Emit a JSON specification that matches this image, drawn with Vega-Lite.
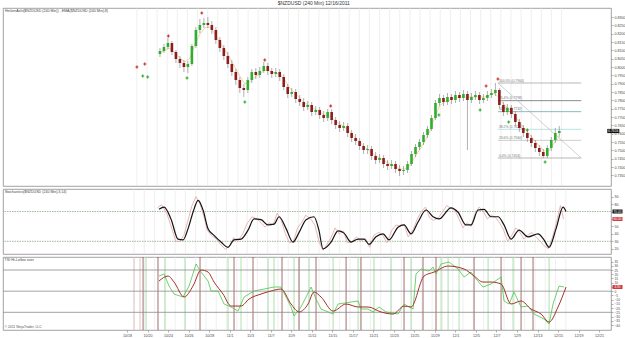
{
"$schema": "https://vega.github.io/schema/vega-lite/v6.json",
"padding": {"left": 2, "top": 1, "right": 0, "bottom": 0},
"background": "white",
"spacing": 1,
"title": {"text": "$NZDUSD (240 Min)  12/16/2011", "fontSize": 5, "fontWeight": "normal", "color": "#333", "offset": 1, "anchor": "middle", "font": "Liberation Sans"},
"config": {
  "font": "Liberation Sans",
  "view": {"stroke": "#8a8a8a", "strokeWidth": 0.8},
  "axis": {"labelFontSize": 3.6, "labelColor": "#444", "tickSize": 2, "tickWidth": 0.5, "tickColor": "#666", "domain": false, "grid": false, "labelPadding": 1, "title": null, "labelOverlap": false, "labelBound": false, "tickCount": 200}
},
"datasets": {
  "grid": [{"t":0.69},{"t":1.70},{"t":2.72},{"t":3.73},{"t":4.74},{"t":5.75},{"t":6.77},{"t":7.78},{"t":8.79},{"t":9.81},{"t":10.82},{"t":11.83},{"t":12.84},{"t":13.86},{"t":14.87},{"t":15.88},{"t":16.89},{"t":17.91},{"t":18.92},{"t":19.93},{"t":20.95},{"t":21.96},{"t":22.97},{"t":23.98},{"t":25.00},{"t":26.01},{"t":27.02},{"t":28.04},{"t":29.05},{"t":30.06},{"t":31.07},{"t":32.09},{"t":33.10},{"t":34.11},{"t":35.13},{"t":36.14},{"t":37.15},{"t":38.16},{"t":39.18},{"t":40.19},{"t":41.20},{"t":42.21},{"t":43.23}],
  "candles": [
{"t":3.0,"o":0.8078,"h":0.8114,"l":0.8060,"c":0.8096},
{"t":3.4,"o":0.8096,"h":0.8138,"l":0.8084,"c":0.8120},
{"t":3.8,"o":0.8120,"h":0.8174,"l":0.8108,"c":0.8144},
{"t":4.2,"o":0.8144,"h":0.8156,"l":0.8072,"c":0.8090},
{"t":4.6,"o":0.8090,"h":0.8102,"l":0.8024,"c":0.8048},
{"t":5.0,"o":0.8048,"h":0.8066,"l":0.7994,"c":0.8024},
{"t":5.4,"o":0.8024,"h":0.8042,"l":0.7970,"c":0.8000},
{"t":5.8,"o":0.8000,"h":0.8036,"l":0.7964,"c":0.8018},
{"t":6.2,"o":0.8018,"h":0.8138,"l":0.8006,"c":0.8126},
{"t":6.6,"o":0.8126,"h":0.8240,"l":0.8114,"c":0.8222},
{"t":7.0,"o":0.8222,"h":0.8288,"l":0.8204,"c":0.8252},
{"t":7.4,"o":0.8252,"h":0.8294,"l":0.8234,"c":0.8264},
{"t":7.8,"o":0.8264,"h":0.8300,"l":0.8234,"c":0.8252},
{"t":8.2,"o":0.8252,"h":0.8276,"l":0.8198,"c":0.8222},
{"t":8.6,"o":0.8222,"h":0.8240,"l":0.8138,"c":0.8162},
{"t":9.0,"o":0.8162,"h":0.8180,"l":0.8090,"c":0.8114},
{"t":9.4,"o":0.8114,"h":0.8132,"l":0.8042,"c":0.8066},
{"t":9.8,"o":0.8066,"h":0.8090,"l":0.7994,"c":0.8018},
{"t":10.2,"o":0.8018,"h":0.8042,"l":0.7946,"c":0.7970},
{"t":10.6,"o":0.7970,"h":0.7988,"l":0.7892,"c":0.7922},
{"t":11.0,"o":0.7922,"h":0.7940,"l":0.7844,"c":0.7874},
{"t":11.4,"o":0.7874,"h":0.7898,"l":0.7820,"c":0.7862},
{"t":11.8,"o":0.7862,"h":0.7940,"l":0.7844,"c":0.7922},
{"t":12.2,"o":0.7922,"h":0.7988,"l":0.7904,"c":0.7970},
{"t":12.6,"o":0.7970,"h":0.7994,"l":0.7928,"c":0.7952},
{"t":13.0,"o":0.7952,"h":0.8000,"l":0.7934,"c":0.7976},
{"t":13.4,"o":0.7976,"h":0.8030,"l":0.7964,"c":0.8006},
{"t":13.8,"o":0.8006,"h":0.8024,"l":0.7952,"c":0.7976},
{"t":14.2,"o":0.7976,"h":0.7994,"l":0.7934,"c":0.7958},
{"t":14.6,"o":0.7958,"h":0.7994,"l":0.7940,"c":0.7970},
{"t":15.0,"o":0.7970,"h":0.7988,"l":0.7916,"c":0.7940},
{"t":15.4,"o":0.7940,"h":0.7958,"l":0.7862,"c":0.7880},
{"t":15.8,"o":0.7880,"h":0.7898,"l":0.7814,"c":0.7838},
{"t":16.2,"o":0.7838,"h":0.7874,"l":0.7820,"c":0.7850},
{"t":16.6,"o":0.7850,"h":0.7868,"l":0.7784,"c":0.7808},
{"t":17.0,"o":0.7808,"h":0.7832,"l":0.7766,"c":0.7790},
{"t":17.4,"o":0.7790,"h":0.7814,"l":0.7736,"c":0.7760},
{"t":17.8,"o":0.7760,"h":0.7796,"l":0.7742,"c":0.7772},
{"t":18.2,"o":0.7772,"h":0.7790,"l":0.7706,"c":0.7730},
{"t":18.6,"o":0.7730,"h":0.7766,"l":0.7712,"c":0.7742},
{"t":19.0,"o":0.7742,"h":0.7760,"l":0.7688,"c":0.7712},
{"t":19.4,"o":0.7712,"h":0.7736,"l":0.7670,"c":0.7694},
{"t":19.8,"o":0.7694,"h":0.7748,"l":0.7676,"c":0.7730},
{"t":20.2,"o":0.7730,"h":0.7748,"l":0.7658,"c":0.7682},
{"t":20.6,"o":0.7682,"h":0.7700,"l":0.7628,"c":0.7652},
{"t":21.0,"o":0.7652,"h":0.7676,"l":0.7610,"c":0.7634},
{"t":21.4,"o":0.7634,"h":0.7670,"l":0.7616,"c":0.7646},
{"t":21.8,"o":0.7646,"h":0.7664,"l":0.7580,"c":0.7604},
{"t":22.2,"o":0.7604,"h":0.7622,"l":0.7550,"c":0.7574},
{"t":22.6,"o":0.7574,"h":0.7598,"l":0.7532,"c":0.7556},
{"t":23.0,"o":0.7556,"h":0.7574,"l":0.7502,"c":0.7526},
{"t":23.4,"o":0.7526,"h":0.7544,"l":0.7478,"c":0.7502},
{"t":23.8,"o":0.7502,"h":0.7532,"l":0.7478,"c":0.7508},
{"t":24.2,"o":0.7508,"h":0.7526,"l":0.7442,"c":0.7466},
{"t":24.6,"o":0.7466,"h":0.7490,"l":0.7418,"c":0.7442},
{"t":25.0,"o":0.7442,"h":0.7478,"l":0.7424,"c":0.7454},
{"t":25.4,"o":0.7454,"h":0.7472,"l":0.7394,"c":0.7418},
{"t":25.8,"o":0.7418,"h":0.7442,"l":0.7382,"c":0.7406},
{"t":26.2,"o":0.7406,"h":0.7442,"l":0.7388,"c":0.7418},
{"t":26.6,"o":0.7418,"h":0.7436,"l":0.7364,"c":0.7388},
{"t":27.0,"o":0.7388,"h":0.7412,"l":0.7346,"c":0.7376},
{"t":27.4,"o":0.7376,"h":0.7406,"l":0.7352,"c":0.7382},
{"t":27.8,"o":0.7382,"h":0.7436,"l":0.7364,"c":0.7418},
{"t":28.2,"o":0.7418,"h":0.7496,"l":0.7406,"c":0.7478},
{"t":28.6,"o":0.7478,"h":0.7538,"l":0.7460,"c":0.7520},
{"t":29.0,"o":0.7520,"h":0.7568,"l":0.7502,"c":0.7550},
{"t":29.4,"o":0.7550,"h":0.7610,"l":0.7532,"c":0.7592},
{"t":29.8,"o":0.7592,"h":0.7646,"l":0.7574,"c":0.7628},
{"t":30.2,"o":0.7628,"h":0.7712,"l":0.7616,"c":0.7694},
{"t":30.6,"o":0.7694,"h":0.7802,"l":0.7682,"c":0.7784},
{"t":31.0,"o":0.7784,"h":0.7838,"l":0.7766,"c":0.7814},
{"t":31.4,"o":0.7814,"h":0.7832,"l":0.7766,"c":0.7790},
{"t":31.8,"o":0.7790,"h":0.7844,"l":0.7772,"c":0.7820},
{"t":32.2,"o":0.7820,"h":0.7838,"l":0.7778,"c":0.7802},
{"t":32.6,"o":0.7802,"h":0.7856,"l":0.7784,"c":0.7832},
{"t":33.0,"o":0.7832,"h":0.7850,"l":0.7790,"c":0.7814},
{"t":33.4,"o":0.7814,"h":0.7862,"l":0.7796,"c":0.7838},
{"t":33.8,"o":0.7838,"h":0.7856,"l":0.7502,"c":0.7802},
{"t":34.2,"o":0.7802,"h":0.7844,"l":0.7784,"c":0.7820},
{"t":34.6,"o":0.7820,"h":0.7856,"l":0.7802,"c":0.7832},
{"t":35.0,"o":0.7832,"h":0.7850,"l":0.7778,"c":0.7802},
{"t":35.4,"o":0.7802,"h":0.7838,"l":0.7784,"c":0.7814},
{"t":35.8,"o":0.7814,"h":0.7856,"l":0.7796,"c":0.7832},
{"t":36.2,"o":0.7832,"h":0.7868,"l":0.7814,"c":0.7844},
{"t":36.6,"o":0.7844,"h":0.7904,"l":0.7826,"c":0.7862},
{"t":37.0,"o":0.7862,"h":0.7874,"l":0.7754,"c":0.7772},
{"t":37.4,"o":0.7772,"h":0.7790,"l":0.7706,"c":0.7730},
{"t":37.8,"o":0.7730,"h":0.7778,"l":0.7712,"c":0.7754},
{"t":38.2,"o":0.7754,"h":0.7772,"l":0.7694,"c":0.7718},
{"t":38.6,"o":0.7718,"h":0.7736,"l":0.7646,"c":0.7670},
{"t":39.0,"o":0.7670,"h":0.7688,"l":0.7610,"c":0.7634},
{"t":39.4,"o":0.7634,"h":0.7652,"l":0.7580,"c":0.7604},
{"t":39.8,"o":0.7604,"h":0.7622,"l":0.7550,"c":0.7574},
{"t":40.2,"o":0.7574,"h":0.7592,"l":0.7520,"c":0.7544},
{"t":40.6,"o":0.7544,"h":0.7562,"l":0.7490,"c":0.7514},
{"t":41.0,"o":0.7514,"h":0.7532,"l":0.7466,"c":0.7490},
{"t":41.4,"o":0.7490,"h":0.7508,"l":0.7454,"c":0.7466},
{"t":41.8,"o":0.7466,"h":0.7532,"l":0.7454,"c":0.7514},
{"t":42.2,"o":0.7514,"h":0.7580,"l":0.7496,"c":0.7562},
{"t":42.6,"o":0.7562,"h":0.7634,"l":0.7544,"c":0.7604},
{"t":43.0,"o":0.7604,"h":0.7646,"l":0.7580,"c":0.7616}
  ],
  "ema": [
{"t":3,"p":0.8084},{"t":3.5,"p":0.8102},{"t":4,"p":0.8114},{"t":4.5,"p":0.8084},{"t":5,"p":0.8054},{"t":5.5,"p":0.8030},{"t":6,"p":0.8054},{"t":6.5,"p":0.8132},{"t":7,"p":0.8198},{"t":7.5,"p":0.8234},{"t":8,"p":0.8240},{"t":8.5,"p":0.8198},{"t":9,"p":0.8150},{"t":9.5,"p":0.8102},{"t":10,"p":0.8054},{"t":10.5,"p":0.8000},{"t":11,"p":0.7946},{"t":11.5,"p":0.7898},{"t":12,"p":0.7910},{"t":12.5,"p":0.7940},{"t":13,"p":0.7958},{"t":13.5,"p":0.7982},{"t":14,"p":0.7976},{"t":14.5,"p":0.7964},{"t":15,"p":0.7958},{"t":15.5,"p":0.7922},{"t":16,"p":0.7874},{"t":16.5,"p":0.7844},{"t":17,"p":0.7814},{"t":17.5,"p":0.7784},{"t":18,"p":0.7766},{"t":18.5,"p":0.7748},{"t":19,"p":0.7730},{"t":19.5,"p":0.7712},{"t":20,"p":0.7706},{"t":20.5,"p":0.7682},{"t":21,"p":0.7658},{"t":21.5,"p":0.7640},{"t":22,"p":0.7610},{"t":22.5,"p":0.7580},{"t":23,"p":0.7550},{"t":23.5,"p":0.7520},{"t":24,"p":0.7496},{"t":24.5,"p":0.7472},{"t":25,"p":0.7454},{"t":25.5,"p":0.7436},{"t":26,"p":0.7418},{"t":26.5,"p":0.7406},{"t":27,"p":0.7388},{"t":27.5,"p":0.7388},{"t":28,"p":0.7406},{"t":28.5,"p":0.7454},{"t":29,"p":0.7502},{"t":29.5,"p":0.7550},{"t":30,"p":0.7610},{"t":30.5,"p":0.7694},{"t":31,"p":0.7766},{"t":31.5,"p":0.7790},{"t":32,"p":0.7802},{"t":32.5,"p":0.7814},{"t":33,"p":0.7820},{"t":33.5,"p":0.7820},{"t":34,"p":0.7820},{"t":34.5,"p":0.7820},{"t":35,"p":0.7820},{"t":35.5,"p":0.7820},{"t":36,"p":0.7832},{"t":36.5,"p":0.7844},{"t":37,"p":0.7814},{"t":37.5,"p":0.7772},{"t":38,"p":0.7748},{"t":38.5,"p":0.7712},{"t":39,"p":0.7670},{"t":39.5,"p":0.7634},{"t":40,"p":0.7598},{"t":40.5,"p":0.7562},{"t":41,"p":0.7526},{"t":41.5,"p":0.7496},{"t":42,"p":0.7502},{"t":42.5,"p":0.7544},{"t":43,"p":0.7580}
  ],
  "markers": [
{"t":0.69,"p":0.8000,"k":"s"},{"t":1.48,"p":0.8018,"k":"s"},{"t":1.28,"p":0.7946,"k":"b"},{"t":1.77,"p":0.7940,"k":"b"},{"t":3.84,"p":0.8186,"k":"s"},{"t":5.71,"p":0.7934,"k":"b"},{"t":7.19,"p":0.8324,"k":"s"},{"t":11.5,"p":0.7790,"k":"b"},{"t":13.5,"p":0.8042,"k":"s"},{"t":20.1,"p":0.7766,"k":"s"},{"t":30.94,"p":0.7712,"k":"b"},{"t":35.07,"p":0.7742,"k":"b"},{"t":35.67,"p":0.7886,"k":"s"},{"t":36.85,"p":0.7928,"k":"s"},{"t":37.93,"p":0.7670,"k":"b"},{"t":39.8,"p":0.7622,"k":"b"},{"t":41.58,"p":0.7430,"k":"b"}
  ],
  "fib": [
{"t":36.85,"t2":45.2,"p":0.7904,"lv":"100.0% (0.7904)","n":100},
{"t":36.85,"t2":45.2,"p":0.7798,"lv":"76.4% (0.7798)","n":76.4},
{"t":36.85,"t2":45.2,"p":0.7732,"lv":"61.8% (0.7732)","n":61.8},
{"t":36.85,"t2":45.2,"p":0.7626,"lv":"38.2% (0.7626)","n":38.2},
{"t":36.85,"t2":45.2,"p":0.7560,"lv":"23.6% (0.7560)","n":23.6},
{"t":36.85,"t2":45.2,"p":0.7454,"lv":"0.0% (0.7454)","n":0}
  ],
  "diag": [{"t":36.85,"t2":45.2,"p":0.7904,"p2":0.7454}],
  "lastPrice": [{"t":43.0,"p":0.7616}],
  "lastStoch": [{"t":43.0,"v":70,"k":"d"},{"t":43.0,"v":60,"k":"k"}],
  "lastTsi": [{"t":43.0,"v":4.9}],
  "stochD": [
{"t":3.15,"v":73},{"t":3.65,"v":76},{"t":4.33,"v":60},{"t":5.02,"v":33},{"t":5.52,"v":32},{"t":6.01,"v":47},{"t":6.5,"v":69},{"t":7.0,"v":85},{"t":7.49,"v":72},{"t":7.98,"v":47},{"t":8.57,"v":38},{"t":9.26,"v":29},{"t":9.95,"v":22},{"t":10.54,"v":32},{"t":11.23,"v":33},{"t":11.92,"v":45},{"t":12.51,"v":60},{"t":13.2,"v":59},{"t":13.89,"v":52},{"t":14.48,"v":53},{"t":14.98,"v":63},{"t":15.67,"v":47},{"t":16.35,"v":29},{"t":16.95,"v":42},{"t":17.64,"v":59},{"t":18.42,"v":63},{"t":18.9,"v":45},{"t":19.31,"v":20},{"t":20.1,"v":29},{"t":20.79,"v":44},{"t":21.38,"v":41},{"t":22.07,"v":29},{"t":22.76,"v":33},{"t":23.35,"v":33},{"t":23.84,"v":26},{"t":24.53,"v":36},{"t":25.22,"v":40},{"t":25.81,"v":32},{"t":26.7,"v":49},{"t":27.29,"v":52},{"t":27.98,"v":40},{"t":28.67,"v":56},{"t":29.46,"v":72},{"t":30.15,"v":63},{"t":30.74,"v":60},{"t":31.92,"v":75},{"t":32.61,"v":69},{"t":33.4,"v":52},{"t":33.89,"v":52},{"t":34.58,"v":72},{"t":35.17,"v":73},{"t":35.86,"v":63},{"t":36.55,"v":63},{"t":37.14,"v":52},{"t":37.83,"v":33},{"t":38.62,"v":45},{"t":39.51,"v":36},{"t":40.49,"v":40},{"t":41.08,"v":32},{"t":41.58,"v":22},{"t":42.27,"v":47},{"t":42.96,"v":76},{"t":43.25,"v":70}
  ],
  "stochK": [
{"t":3.0,"v":75},{"t":3.4,"v":79},{"t":3.9,"v":68},{"t":4.3,"v":52},{"t":4.8,"v":30},{"t":5.2,"v":30},{"t":5.6,"v":38},{"t":6.0,"v":58},{"t":6.4,"v":78},{"t":6.8,"v":90},{"t":7.2,"v":80},{"t":7.6,"v":62},{"t":7.9,"v":45},{"t":8.3,"v":38},{"t":8.8,"v":33},{"t":9.2,"v":26},{"t":9.7,"v":19},{"t":10.1,"v":24},{"t":10.5,"v":35},{"t":10.9,"v":30},{"t":11.4,"v":40},{"t":11.8,"v":53},{"t":12.3,"v":63},{"t":12.8,"v":60},{"t":13.2,"v":55},{"t":13.6,"v":49},{"t":14.0,"v":55},{"t":14.4,"v":52},{"t":14.8,"v":68},{"t":15.2,"v":58},{"t":15.6,"v":40},{"t":16.0,"v":28},{"t":16.4,"v":30},{"t":16.8,"v":48},{"t":17.2,"v":55},{"t":17.6,"v":65},{"t":18.1,"v":60},{"t":18.5,"v":52},{"t":18.9,"v":30},{"t":19.3,"v":18},{"t":19.7,"v":26},{"t":20.1,"v":35},{"t":20.5,"v":48},{"t":20.9,"v":40},{"t":21.3,"v":44},{"t":21.7,"v":28},{"t":22.2,"v":30},{"t":22.6,"v":36},{"t":23.0,"v":30},{"t":23.5,"v":34},{"t":23.9,"v":22},{"t":24.3,"v":38},{"t":24.8,"v":42},{"t":25.2,"v":38},{"t":25.6,"v":28},{"t":26.1,"v":45},{"t":26.5,"v":52},{"t":26.9,"v":50},{"t":27.3,"v":53},{"t":27.7,"v":36},{"t":28.2,"v":46},{"t":28.6,"v":60},{"t":29.0,"v":70},{"t":29.4,"v":76},{"t":29.8,"v":62},{"t":30.2,"v":58},{"t":30.7,"v":62},{"t":31.1,"v":70},{"t":31.5,"v":78},{"t":31.9,"v":74},{"t":32.3,"v":72},{"t":32.7,"v":60},{"t":33.1,"v":48},{"t":33.5,"v":55},{"t":33.9,"v":50},{"t":34.3,"v":68},{"t":34.7,"v":76},{"t":35.1,"v":70},{"t":35.5,"v":60},{"t":35.9,"v":65},{"t":36.3,"v":62},{"t":36.7,"v":55},{"t":37.1,"v":45},{"t":37.5,"v":30},{"t":37.9,"v":38},{"t":38.3,"v":48},{"t":38.7,"v":42},{"t":39.1,"v":33},{"t":39.5,"v":38},{"t":39.9,"v":42},{"t":40.3,"v":36},{"t":40.7,"v":30},{"t":41.1,"v":24},{"t":41.5,"v":20},{"t":41.9,"v":35},{"t":42.3,"v":55},{"t":42.7,"v":78},{"t":43.0,"v":60}
  ],
  "tsiSig": [
{"t":3.15,"v":12.0},{"t":4.04,"v":17.9},{"t":4.63,"v":10.8},{"t":5.62,"v":-6.9},{"t":6.5,"v":6.1},{"t":7.29,"v":25.0},{"t":7.98,"v":22.6},{"t":8.57,"v":10.8},{"t":9.46,"v":-3.4},{"t":10.25,"v":-17.6},{"t":11.23,"v":-17.6},{"t":12.02,"v":-9.3},{"t":13.2,"v":-3.4},{"t":14.19,"v":0.2},{"t":15.17,"v":2.5},{"t":16.16,"v":-15.2},{"t":16.95,"v":-24.6},{"t":17.83,"v":-15.2},{"t":18.42,"v":-1.0},{"t":19.11,"v":-6.9},{"t":20.3,"v":-23.5},{"t":21.58,"v":-15.2},{"t":22.76,"v":-18.7},{"t":23.74,"v":-18.7},{"t":25.02,"v":-24.6},{"t":26.21,"v":-27.0},{"t":27.29,"v":-17.6},{"t":27.98,"v":-18.7},{"t":29.26,"v":17.9},{"t":30.25,"v":22.6},{"t":31.63,"v":29.7},{"t":33.2,"v":26.2},{"t":34.19,"v":17.9},{"t":35.07,"v":10.8},{"t":35.86,"v":10.8},{"t":36.85,"v":8.5},{"t":37.83,"v":-15.2},{"t":38.82,"v":-11.6},{"t":39.8,"v":-21.1},{"t":40.79,"v":-27.0},{"t":41.58,"v":-36.5},{"t":42.46,"v":-18.7},{"t":43.25,"v":4.9}
  ],
  "tsi": [
{"t":3.15,"v":17.9},{"t":3.65,"v":20.3},{"t":4.14,"v":6.1},{"t":4.63,"v":-3.4},{"t":5.52,"v":-6.9},{"t":6.11,"v":6.1},{"t":6.8,"v":32.1},{"t":7.29,"v":22.6},{"t":7.98,"v":12.0},{"t":8.28,"v":0.2},{"t":8.97,"v":0.2},{"t":9.56,"v":-15.2},{"t":10.25,"v":-18.7},{"t":10.94,"v":-23.5},{"t":11.53,"v":-6.9},{"t":12.51,"v":0.2},{"t":13.5,"v":2.5},{"t":14.48,"v":4.9},{"t":15.17,"v":4.9},{"t":16.16,"v":-18.7},{"t":16.45,"v":-29.4},{"t":17.14,"v":-18.7},{"t":18.13,"v":4.9},{"t":18.62,"v":-9.3},{"t":19.11,"v":-21.1},{"t":20.3,"v":-27.0},{"t":20.79,"v":-15.2},{"t":22.07,"v":-12.8},{"t":22.76,"v":-11.6},{"t":23.05,"v":-21.1},{"t":23.74,"v":-21.1},{"t":24.24,"v":-24.6},{"t":24.83,"v":-18.7},{"t":25.52,"v":-24.6},{"t":26.7,"v":-27.0},{"t":27.29,"v":-15.2},{"t":28.18,"v":-21.1},{"t":28.47,"v":20.3},{"t":28.97,"v":26.2},{"t":29.75,"v":23.8},{"t":30.15,"v":28.5},{"t":30.44,"v":20.3},{"t":30.94,"v":32.1},{"t":31.72,"v":34.5},{"t":32.61,"v":26.2},{"t":33.2,"v":16.7},{"t":33.89,"v":22.6},{"t":34.38,"v":14.4},{"t":35.07,"v":4.9},{"t":35.86,"v":8.5},{"t":36.85,"v":16.7},{"t":37.14,"v":-11.6},{"t":37.64,"v":-15.2},{"t":38.13,"v":-1.0},{"t":38.82,"v":-18.7},{"t":39.51,"v":-17.6},{"t":40.1,"v":-27.0},{"t":41.08,"v":-32.9},{"t":41.58,"v":-38.8},{"t":41.97,"v":-15.2},{"t":42.56,"v":6.1},{"t":43.05,"v":4.9}
  ],
  "vlines": [
{"t":0.69,"k":"pre"},{"t":1.28,"k":"pre"},{"t":1.58,"k":"dn"},{"t":1.87,"k":"up"},{"t":3.05,"k":"dn"},{"t":3.74,"k":"up"},{"t":5.71,"k":"up"},{"t":7.19,"k":"dn"},{"t":9.95,"k":"up"},{"t":10.54,"k":"dn"},{"t":11.23,"k":"up"},{"t":12.41,"k":"dn"},{"t":13.89,"k":"up"},{"t":14.48,"k":"up"},{"t":15.27,"k":"dn"},{"t":16.45,"k":"up"},{"t":16.95,"k":"dn"},{"t":17.93,"k":"up"},{"t":18.62,"k":"dn"},{"t":20.3,"k":"up"},{"t":21.58,"k":"dn"},{"t":22.76,"k":"up"},{"t":23.05,"k":"dn"},{"t":24.33,"k":"up"},{"t":26.01,"k":"up"},{"t":27.29,"k":"dn"},{"t":27.98,"k":"up"},{"t":29.16,"k":"dn"},{"t":30.44,"k":"dn"},{"t":30.94,"k":"up"},{"t":31.63,"k":"up"},{"t":32.71,"k":"up"},{"t":34.19,"k":"dn"},{"t":35.57,"k":"up"},{"t":36.85,"k":"dn"},{"t":38.03,"k":"up"},{"t":38.82,"k":"dn"},{"t":40.0,"k":"dn"},{"t":41.58,"k":"up"}
  ],
  "stLevels": [{"v":70},{"v":30}],
  "tsiLevels": [{"v":25},{"v":0},{"v":-25}]
},
"vconcat": [
{
  "width": 608, "height": 178,
  "title": {"text": "HeikenAshi($NZDUSD (240 Min)) , EMA($NZDUSD (240 Min),8)", "anchor": "start", "fontSize": 3.6, "fontWeight": "normal", "color": "#444", "offset": -5, "dx": 2},
  "encoding": {"x": {"field": "t", "type": "quantitative", "scale": {"domain": [-12.22, 47.68], "nice": false, "zero": false}, "axis": null}},
  "layer": [
    {"data": {"name": "grid"}, "mark": {"type": "rule", "color": "#e4e4e4", "strokeWidth": 0.6}, "encoding": {}},
    {"data": {"name": "fib"}, "mark": {"type": "rule", "strokeWidth": 0.7},
     "encoding": {"x2": {"field": "t2"}, "y": {"field": "p", "type": "quantitative", "scale": {"domain": [0.7286, 0.8354], "nice": false, "zero": false}, "title": null,
        "axis": {"orient": "right", "tickCount": 200, "values": [0.735,0.74,0.745,0.75,0.755,0.76,0.765,0.77,0.775,0.78,0.785,0.79,0.795,0.8,0.805,0.81,0.815,0.82,0.825,0.83], "format": ".4f", "labelOverlap": false}},
       "color": {"condition": [{"test": "datum.n == 76.4", "value": "#5a5a5a"}, {"test": "datum.n == 61.8", "value": "#5f9ea0"}, {"test": "datum.n == 38.2", "value": "#9fd8d8"}, {"test": "datum.n == 23.6", "value": "#b8b8b8"}], "value": "#9a9a9a"}}},
    {"data": {"name": "fib"}, "mark": {"type": "text", "align": "left", "baseline": "bottom", "dy": -0.5, "dx": 1, "fontSize": 3.4, "color": "#777"},
     "encoding": {"y": {"field": "p", "type": "quantitative", "scale": {"domain": [0.7286, 0.8354], "nice": false, "zero": false}, "title": null}, "text": {"field": "lv"}}},
    {"data": {"name": "diag"}, "mark": {"type": "rule", "color": "#b0b0b0", "strokeWidth": 0.6},
     "encoding": {"x2": {"field": "t2"}, "y": {"field": "p", "type": "quantitative", "scale": {"domain": [0.7286, 0.8354], "nice": false, "zero": false}, "title": null}, "y2": {"field": "p2"}}},
    {"data": {"name": "ema"}, "mark": {"type": "line", "color": "#f0c890", "strokeWidth": 0.8},
     "encoding": {"y": {"field": "p", "type": "quantitative", "scale": {"domain": [0.7286, 0.8354], "nice": false, "zero": false}, "title": null}}},
    {"data": {"name": "candles"}, "mark": {"type": "rule", "color": "#7a7a7a", "strokeWidth": 0.6},
     "encoding": {"y": {"field": "l", "type": "quantitative", "scale": {"domain": [0.7286, 0.8354], "nice": false, "zero": false}, "title": null}, "y2": {"field": "h"}}},
    {"data": {"name": "candles"}, "mark": {"type": "bar", "width": 2.6},
     "encoding": {"y": {"field": "o", "type": "quantitative", "scale": {"domain": [0.7286, 0.8354], "nice": false, "zero": false}, "title": null}, "y2": {"field": "c"},
       "color": {"condition": {"test": "datum.c >= datum.o", "value": "#2fae2f"}, "value": "#8e1d1d"}}},
    {"data": {"name": "markers"}, "mark": {"type": "point", "shape": "cross", "filled": true, "size": 9, "opacity": 1},
     "encoding": {"y": {"field": "p", "type": "quantitative", "scale": {"domain": [0.7286, 0.8354], "nice": false, "zero": false}, "title": null},
       "color": {"condition": {"test": "datum.k == 's'", "value": "#c83232"}, "value": "#2fae2f"}}},
    {"data": {"name": "lastPrice"}, "mark": {"type": "point", "clip": false, "shape": "M8,-0.35L10,-0.35L10,0.35L8,0.35Z", "filled": true, "size": 144, "color": "#111", "opacity": 1},
     "encoding": {"y": {"field": "p", "type": "quantitative", "scale": {"domain": [0.7286, 0.8354], "nice": false, "zero": false}, "title": null}}},
    {"data": {"name": "lastPrice"}, "mark": {"type": "text", "clip": false, "align": "center", "baseline": "middle", "dx": 54, "fontSize": 3.4, "color": "white"},
     "encoding": {"y": {"field": "p", "type": "quantitative", "scale": {"domain": [0.7286, 0.8354], "nice": false, "zero": false}, "title": null}, "text": {"field": "p", "type": "quantitative", "format": ".4f"}}}
  ]
},
{
  "width": 608, "height": 65,
  "title": {"text": "Stochastics($NZDUSD (240 Min),3,14)", "anchor": "start", "fontSize": 3.6, "fontWeight": "normal", "color": "#444", "offset": -5, "dx": 2},
  "encoding": {"x": {"field": "t", "type": "quantitative", "scale": {"domain": [-12.22, 47.68], "nice": false, "zero": false}, "axis": null}},
  "layer": [
    {"data": {"name": "grid"}, "mark": {"type": "rule", "color": "#e4e4e4", "strokeWidth": 0.6}, "encoding": {}},
    {"data": {"name": "stLevels"}, "mark": {"type": "rule", "color": "#7d9c7d", "strokeWidth": 0.7, "strokeDash": [1.5, 1]},
     "encoding": {"x": null, "y": {"field": "v", "type": "quantitative", "scale": {"domain": [13, 100.2], "nice": false, "zero": false}, "title": null,
        "axis": {"orient": "right", "tickCount": 200, "format": "d", "values": [20,30,40,50,60,70,80,90], "labelOverlap": false}}}},
    {"data": {"name": "stochK"}, "mark": {"type": "line", "color": "#e6a3a3", "strokeWidth": 0.8},
     "encoding": {"y": {"field": "v", "type": "quantitative", "scale": {"domain": [13, 100.2], "nice": false, "zero": false}, "title": null}}},
    {"data": {"name": "stochD"}, "mark": {"type": "line", "color": "#141414", "strokeWidth": 1.2, "interpolate": "monotone"},
     "encoding": {"y": {"field": "v", "type": "quantitative", "scale": {"domain": [13, 100.2], "nice": false, "zero": false}, "title": null}}},
    {"data": {"name": "lastStoch"}, "mark": {"type": "point", "clip": false, "shape": "M9.8,-0.4L11.8,-0.4L11.8,0.4L9.8,0.4Z", "filled": true, "size": 100, "opacity": 1},
     "encoding": {"y": {"field": "v", "type": "quantitative", "scale": {"domain": [13, 100.2], "nice": false, "zero": false}, "title": null},
       "color": {"condition": {"test": "datum.k == 'd'", "value": "#111"}, "value": "#d23a3a"}}},
    {"data": {"name": "lastStoch"}, "mark": {"type": "text", "clip": false, "align": "center", "baseline": "middle", "dx": 54, "fontSize": 3.2, "color": "white"},
     "encoding": {"y": {"field": "v", "type": "quantitative", "scale": {"domain": [13, 100.2], "nice": false, "zero": false}, "title": null}, "text": {"field": "v", "type": "quantitative", "format": ".2f"}}}
  ]
},
{
  "width": 608, "height": 73,
  "title": {"text": "TSI Hi-Lo/bar over", "anchor": "start", "fontSize": 3.6, "fontWeight": "normal", "color": "#444", "offset": -5, "dx": 2},
  "encoding": {"x": {"field": "t", "type": "quantitative", "scale": {"domain": [-12.22, 47.68], "nice": false, "zero": false},
     "axis": {"orient": "bottom", "tickCount": 200, "labelOverlap": false, "values": [0,2.022,4.044,6.066,8.088,10.11,12.132,14.154,16.176,18.198,20.22,22.242,24.264,26.286,28.308,30.33,32.352,34.374,36.396,38.418,40.44,42.462,44.484,46.506],
       "labelExpr": "['10/18','10/20','10/24','10/26','10/28','11/1','11/3','11/7','11/9','11/11','11/15','11/17','11/21','11/23','11/25','11/29','12/1','12/5','12/7','12/9','12/13','12/15','12/19','12/21'][round(datum.value/2.022)]",
       "title": "© 2011 NinjaTrader, LLC", "titleFontSize": 3.4, "titleFontWeight": "normal", "titleColor": "#555", "titleAnchor": "start", "titleAlign": "left", "titleBaseline": "bottom", "titleX": 1, "titleY": -1.5}}},
  "layer": [
    {"data": {"name": "grid"}, "mark": {"type": "rule", "color": "#e4e4e4", "strokeWidth": 0.6}, "encoding": {}},
    {"data": {"name": "vlines"}, "mark": {"type": "rule", "strokeWidth": 0.8},
     "encoding": {"color": {"condition": [{"test": "datum.k == 'dn'", "value": "#8e4a4a"}, {"test": "datum.k == 'pre'", "value": "#dcb8b8"}], "value": "#98d898"}}},
    {"data": {"name": "tsiLevels"}, "mark": {"type": "rule", "color": "#8c8c8c", "strokeWidth": 0.8},
     "encoding": {"x": null, "y": {"field": "v", "type": "quantitative", "scale": {"domain": [-45.9, 40.4], "nice": false, "zero": false}, "title": null,
        "axis": {"orient": "right", "tickCount": 200, "format": "d", "labelFontSize": 3.2, "values": [-40,-35,-30,-25,-20,-15,-10,-5,0,5,10,15,20,25,30,35], "labelOverlap": false}}}},
    {"data": {"name": "tsi"}, "mark": {"type": "line", "color": "#4cc44c", "strokeWidth": 0.8},
     "encoding": {"y": {"field": "v", "type": "quantitative", "scale": {"domain": [-45.9, 40.4], "nice": false, "zero": false}, "title": null}}},
    {"data": {"name": "tsiSig"}, "mark": {"type": "line", "color": "#a3322a", "strokeWidth": 1.0, "interpolate": "monotone"},
     "encoding": {"y": {"field": "v", "type": "quantitative", "scale": {"domain": [-45.9, 40.4], "nice": false, "zero": false}, "title": null}}},
    {"data": {"name": "lastTsi"}, "mark": {"type": "point", "clip": false, "shape": "M9.8,-0.4L11.8,-0.4L11.8,0.4L9.8,0.4Z", "filled": true, "size": 100, "color": "#d23a3a", "opacity": 1},
     "encoding": {"y": {"field": "v", "type": "quantitative", "scale": {"domain": [-45.9, 40.4], "nice": false, "zero": false}, "title": null}}},
    {"data": {"name": "lastTsi"}, "mark": {"type": "text", "clip": false, "align": "center", "baseline": "middle", "dx": 54, "fontSize": 3.0, "color": "white"},
     "encoding": {"y": {"field": "v", "type": "quantitative", "scale": {"domain": [-45.9, 40.4], "nice": false, "zero": false}, "title": null}, "text": {"field": "v", "type": "quantitative", "format": ".2f"}}}
  ]
}
]
}
